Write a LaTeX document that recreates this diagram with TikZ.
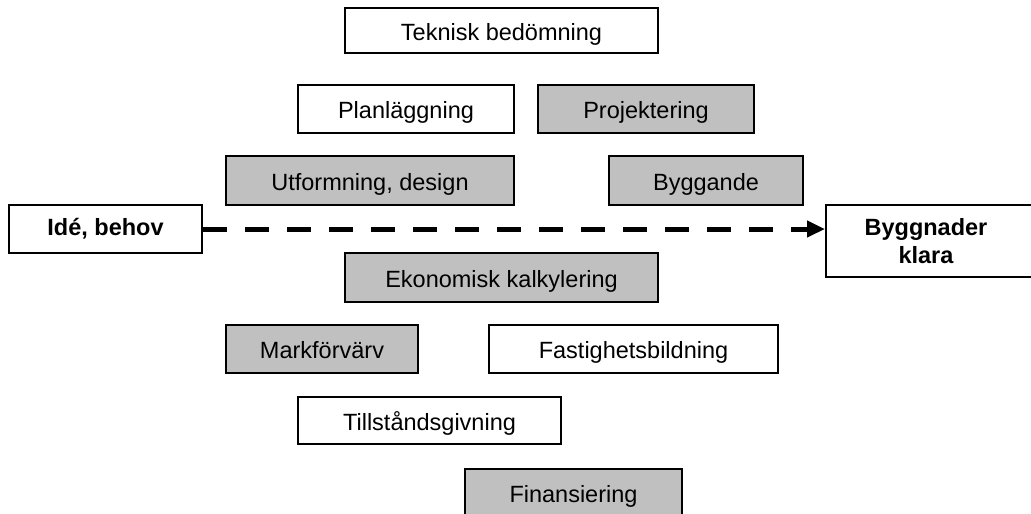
\documentclass[tikz,border=0pt]{standalone}
\usepackage{fontspec}
\setmainfont{Liberation Sans}
\usetikzlibrary{arrows.meta}
\definecolor{boxgray}{RGB}{192,192,192}
\tikzset{
  stage/.style={draw=black, line width=1.4pt, fill=white, inner sep=0pt,
    font=\fontsize{23.5}{27}\selectfont, text height=19pt, text depth=0pt},
  shaded/.style={stage, fill=boxgray},
  endpoint/.style={draw=black, line width=2pt, fill=white, inner sep=0pt,
    font=\fontsize{23.5}{28}\selectfont\bfseries, align=center},
  flow/.style={line width=5pt, dash pattern=on 24pt off 18pt,
    -{Triangle[length=18pt, width=16pt]}}
}
% place a box from its left/right/top/bottom edges
\newcommand{\stagebox}[7]{%
  \node[#1, minimum width={(#4)-(#3)}, minimum height={(#6)-(#5)}]
    (#2) at ({((#3)+(#4))/2},{((#5)+(#6))/2}) {#7};}
\begin{document}
\begin{tikzpicture}[x=1pt, y=-1pt]
  \useasboundingbox (0,0) rectangle (1031,514);

  \stagebox{stage}{tek}{345}{658}{8}{53}{Teknisk bedömning}
  \stagebox{stage}{plan}{298}{514}{85}{133}{Planläggning}
  \stagebox{shaded}{proj}{538}{754}{85}{133}{Projektering}
  \stagebox{shaded}{utf}{226}{514}{156}{205}{Utformning, design}
  \stagebox{shaded}{byg}{609}{803}{156}{205}{Byggande}
  \stagebox{endpoint}{ide}{9}{202}{205}{253}{Idé, behov}
  \stagebox{endpoint}{klar}{826}{1036}{205}{277}{\hspace*{-10pt}Byggnader\\\hspace*{-10pt}klara}
  \stagebox{shaded}{eko}{345}{658}{253}{302}{Ekonomisk kalkylering}
  \stagebox{shaded}{mark}{226}{418}{325}{373}{Markförvärv}
  \stagebox{stage}{fast}{489}{778}{325}{373}{Fastighetsbildning}
  \stagebox{stage}{till}{298}{561}{397}{444}{Tillståndsgivning}
  \stagebox{shaded}{fin}{465}{682}{469}{517}{Finansiering}

  \draw[flow] (ide.east) -- (ide.east -| klar.west);
\end{tikzpicture}
\end{document}
